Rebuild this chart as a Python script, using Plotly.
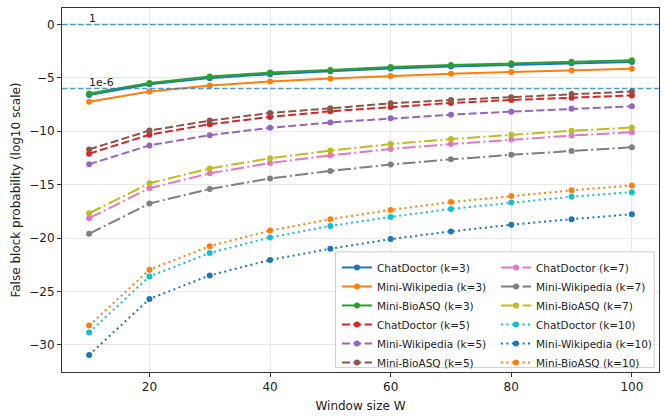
import plotly.graph_objects as go

W = [10, 20, 30, 40, 50, 60, 70, 80, 90, 100]

names = [
    "ChatDoctor (k=3)", "Mini-Wikipedia (k=3)", "Mini-BioASQ (k=3)",
    "ChatDoctor (k=5)", "Mini-Wikipedia (k=5)", "Mini-BioASQ (k=5)",
    "ChatDoctor (k=7)", "Mini-Wikipedia (k=7)", "Mini-BioASQ (k=7)",
    "ChatDoctor (k=10)", "Mini-Wikipedia (k=10)", "Mini-BioASQ (k=10)",
]

cd3 = [-6.6, -5.6, -5.02, -4.65, -4.38, -4.12, -3.94, -3.79, -3.62, -3.5]
mw3 = [-7.23, -6.28, -5.71, -5.34, -5.06, -4.81, -4.6, -4.44, -4.28, -4.13]
ba3 = [-6.45, -5.47, -4.87, -4.5, -4.25, -3.97, -3.8, -3.63, -3.48, -3.35]
cd5 = [-12.1, -10.32, -9.34, -8.65, -8.13, -7.72, -7.35, -7.07, -6.86, -6.64]
mw5 = [-13.09, -11.32, -10.36, -9.67, -9.18, -8.78, -8.44, -8.16, -7.9, -7.66]
ba5 = [-11.7, -9.93, -9.0, -8.28, -7.85, -7.38, -7.07, -6.8, -6.5, -6.27]
cd7 = [-18.14, -15.33, -13.94, -12.97, -12.25, -11.66, -11.2, -10.77, -10.4, -10.08]
mw7 = [-19.6, -16.77, -15.4, -14.42, -13.71, -13.12, -12.63, -12.2, -11.85, -11.5]
ba7 = [-17.68, -14.87, -13.48, -12.53, -11.81, -11.2, -10.73, -10.33, -9.95, -9.65]
cd10 = [-28.84, -23.6, -21.4, -19.94, -18.87, -18.02, -17.27, -16.68, -16.13, -15.7]
mw10 = [-30.95, -25.71, -23.5, -22.05, -21.0, -20.1, -19.38, -18.76, -18.23, -17.77]
ba10 = [-28.2, -22.97, -20.76, -19.3, -18.23, -17.37, -16.63, -16.07, -15.53, -15.07]

series = [cd3, mw3, ba3, cd5, mw5, ba5, cd7, mw7, ba7, cd10, mw10, ba10]

ref_values = [0, -6]
ref_labels = ["1", "1e-6"]

x_ticks = [20, 40, 60, 80, 100]
y_ticks = [0, -5, -10, -15, -20, -25, -30]

colors = ["#1f77b4", "#ff7f0e", "#2ca02c", "#d62728", "#9467bd", "#8c564b",
          "#e377c2", "#7f7f7f", "#bcbd22", "#17becf", "#1f77b4", "#ff7f0e"]
dashes = ["solid"] * 3 + ["8px,3.3px"] * 3 + ["13px,3.3px,2px,3.3px"] * 3 + ["2px,3.4px"] * 3

fig = go.Figure()
for i, (nm, vals) in enumerate(zip(names, series)):
    fig.add_trace(go.Scatter(
        x=W, y=vals, name=nm, mode="lines+markers",
        line=dict(color=colors[i], width=2, dash=dashes[i]),
        marker=dict(color=colors[i], size=6),
        legend="legend" if i < 6 else "legend2",
    ))

for v in ref_values:
    fig.add_shape(type="line", xref="paper", x0=0, x1=1, yref="y", y0=v, y1=v,
                  line=dict(color="rgba(31,119,180,0.75)", width=1.5, dash="5.5px,2.5px"),
                  layer="above")
for v, t in zip(ref_values, ref_labels):
    fig.add_annotation(x=W[0], y=v, text=t, showarrow=False, xanchor="left",
                       yanchor="bottom", xshift=-2, yshift=-2,
                       font=dict(family="DejaVu Sans", size=11, color="#222"))

# legend frame
fig.add_shape(type="rect", xref="paper", yref="paper",
              x0=0.458, x1=0.992, y0=0.012, y1=0.33,
              fillcolor="rgba(255,255,255,0.85)", line=dict(color="#cccccc", width=1),
              layer="above")

leg_common = dict(bgcolor="rgba(0,0,0,0)", borderwidth=0, yanchor="top",
                  font=dict(family="DejaVu Sans", size=10.5, color="#222"),
                  itemwidth=30, tracegroupgap=0)
fig.update_layout(
    width=667, height=418,
    margin=dict(l=62, r=8, t=7, b=45),
    plot_bgcolor="white", paper_bgcolor="white",
    font=dict(family="DejaVu Sans", size=12, color="#222"),
    legend=dict(x=0.4606, y=0.327, **leg_common),
    legend2=dict(x=0.727, y=0.327, **leg_common),
    xaxis=dict(range=[5.5, 104.5], tickvals=x_ticks, ticks="outside", ticklen=4,
               tickcolor="#333", showline=True, mirror=True, linecolor="#333", linewidth=1,
               showgrid=True, gridcolor="#e8e8e8", zeroline=False,
               title=dict(text="Window size W", standoff=8, font=dict(size=12))),
    yaxis=dict(range=[-32.55, 1.55], tickvals=y_ticks, ticktext=["0", "−5", "−10", "−15", "−20", "−25", "−30"],
               ticks="outside", ticklen=4,
               tickcolor="#333", showline=True, mirror=True, linecolor="#333", linewidth=1,
               showgrid=True, gridcolor="#e8e8e8", zeroline=False,
               title=dict(text="False block probability (log10 scale)", standoff=6, font=dict(size=12))),
)

fig.write_html("out.html")
